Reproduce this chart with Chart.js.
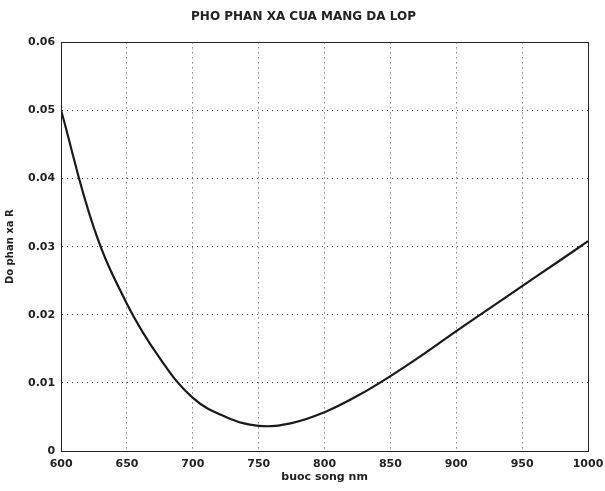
<!DOCTYPE html>
<html>
<head>
<meta charset="utf-8">
<script src="https://cdn.jsdelivr.net/npm/chart.js@4"></script>
<style>
  html, body { margin: 0; padding: 0; background: #fff; }
  #wrap { width: 605px; height: 491px; }
</style>
</head>
<body>
<div id="wrap"><canvas id="spectrumChart" width="605" height="491"></canvas></div>
<script>
// wavelength (nm) and reflectance R
const wavelengths = [600, 625, 650, 675, 700, 725, 750, 775, 800, 825, 850, 875, 900, 925, 950, 975, 1000];
const reflectance = [0.0500, 0.0327, 0.0216, 0.0136, 0.0078, 0.0050, 0.0037, 0.0041, 0.0057, 0.0081, 0.0110, 0.0142, 0.0176, 0.0209, 0.0242, 0.0275, 0.0308];
const xTicks = [600, 650, 700, 750, 800, 850, 900, 950, 1000];
const yTicks = [0, 0.01, 0.02, 0.03, 0.04, 0.05, 0.06];

const points = wavelengths.map((w, i) => ({ x: w, y: reflectance[i] }));

// solid box round the plot area
const frame = {
  id: 'frame',
  afterDraw(chart) {
    const a = chart.chartArea, c = chart.ctx;
    c.save();
    c.setLineDash([]);
    c.strokeStyle = '#222';
    c.lineWidth = 1;
    c.strokeRect(Math.round(a.left) + 0.5, Math.round(a.top) + 0.5,
      Math.round(a.right - a.left), Math.round(a.bottom - a.top));
    c.restore();
  }
};

const fam = 'DejaVu Sans, Arial, sans-serif';
const tickFont = { family: fam, size: 11, weight: 'bold', lineHeight: 1 };

const ctx = document.getElementById('spectrumChart');
new Chart(ctx, {
  type: 'line',
  data: {
    datasets: [{
      data: points,
      borderColor: '#1a1a1a',
      borderWidth: 2.2,
      pointRadius: 0,
      tension: 0.4,
      fill: false
    }]
  },
  options: {
    responsive: false,
    animation: false,
    layout: { padding: { left: 4, right: 2, top: 5, bottom: 8 } },
    plugins: {
      legend: { display: false },
      tooltip: { enabled: false },
      title: {
        display: true,
        text: 'PHO PHAN XA CUA MANG DA LOP',
        color: '#222',
        font: { family: fam, size: 12, weight: 'bold' },
        padding: { top: 5, bottom: 18 }
      }
    },
    scales: {
      x: {
        type: 'linear',
        min: 600,
        max: 1000,
        afterBuildTicks(axis) { axis.ticks = xTicks.map(v => ({ value: v })); },
        afterFit(axis) { axis.paddingRight = 17; },
        ticks: { color: '#222', font: tickFont, padding: 8, maxRotation: 0, callback: v => String(v) },
        grid: { color: '#444', lineWidth: 1, drawTicks: false },
        border: { display: true, color: '#222', dash: [1, 4] },
        title: {
          display: true,
          text: 'buoc song nm',
          color: '#222',
          font: { family: fam, size: 11, weight: 'bold', lineHeight: 1 },
          padding: { top: -6, bottom: 0 }
        }
      },
      y: {
        min: 0,
        max: 0.06,
        afterBuildTicks(axis) { axis.ticks = yTicks.map(v => ({ value: v })); },
        ticks: { color: '#222', font: tickFont, padding: 6, callback: v => String(+v.toFixed(2)) },
        grid: { color: '#444', lineWidth: 1, drawTicks: false },
        border: { display: true, color: '#222', dash: [1, 4] },
        title: {
          display: true,
          text: 'Do phan xa R',
          color: '#222',
          font: { family: fam, size: 10, weight: 'bold' },
          padding: { top: 0, bottom: 6 }
        }
      }
    }
  },
  plugins: [frame]
});
</script>
</body>
</html>
